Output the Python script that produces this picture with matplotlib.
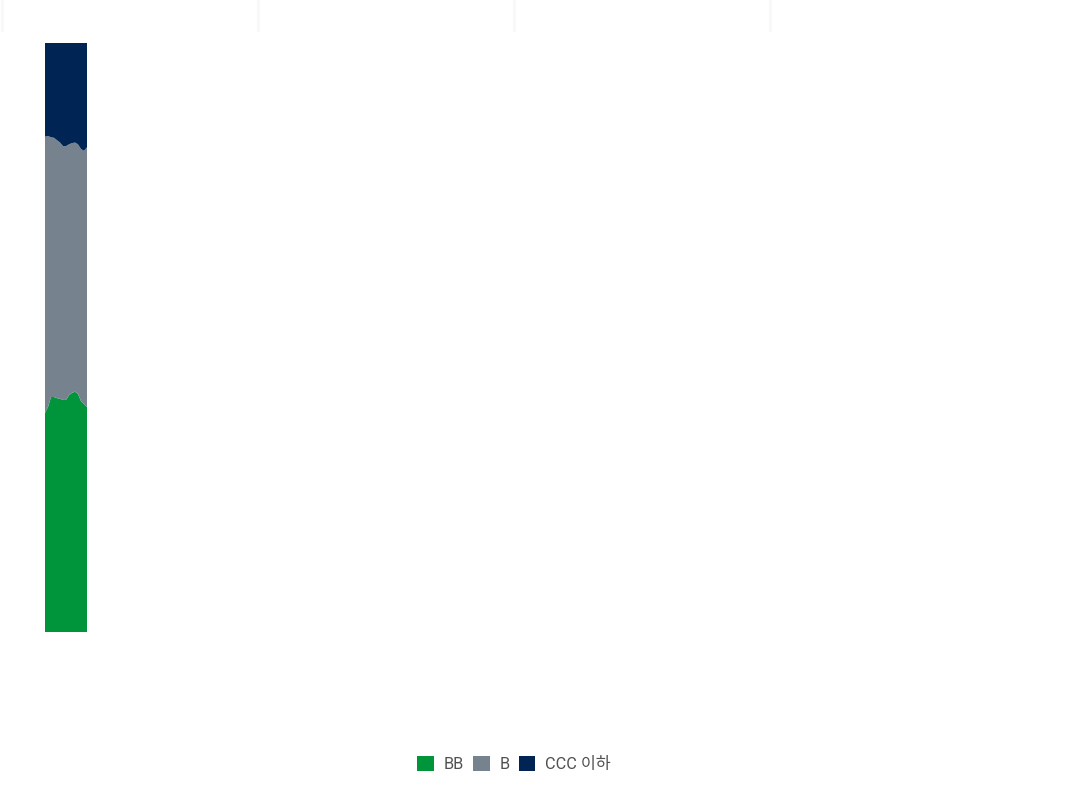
import matplotlib
matplotlib.use("Agg")
import matplotlib.pyplot as plt
from matplotlib.patches import Patch
from matplotlib.lines import Line2D

plt.rcParams['font.family'] = ['Roboto', 'Noto Sans CJK KR', 'DejaVu Sans']

periods = list(range(15))
bb = [37.2, 38.2, 39.9, 39.9, 39.7, 39.6, 39.4, 39.4, 40.2, 40.6, 40.8, 40.4, 39.2, 38.7, 38.2]
b = [46.9, 46.0, 44.1, 44.0, 43.8, 43.5, 43.1, 43.1, 42.6, 42.4, 42.3, 42.4, 42.8, 43.0, 44.1]
ccc = [15.9, 15.8, 16.0, 16.1, 16.5, 16.9, 17.5, 17.5, 17.2, 17.0, 16.9, 17.2, 18.0, 18.3, 17.7]
labels = ['BB', 'B', 'CCC 이하']
colors = ['#00953A', '#76838F', '#002554']

fig = plt.figure(figsize=(10.76, 8), dpi=100)
ax = fig.add_axes([45/1076, 168/800, 42/1076, 589/800])
ax.stackplot(periods, bb, b, ccc, colors=colors, linewidth=0)
ax.set_xlim(periods[0], periods[-1])
ax.set_ylim(0, 100)
ax.axis('off')

# faint top separators
for xp in [2, 258, 514, 770]:
    fig.add_artist(Line2D([xp/1076, xp/1076], [1, 1 - 30/800], color='#f8f8f8', lw=2))

handles = [Patch(facecolor=c, edgecolor='none') for c in colors]
fig.legend(handles, labels, loc='center', bbox_to_anchor=(514/1076, 1 - 764/800),
           ncol=3, frameon=False, fontsize=11.7, labelcolor='#505050',
           handlelength=1.0, handleheight=1.0, handletextpad=0.6, columnspacing=0.6)

fig.savefig('out.png', dpi=100)
